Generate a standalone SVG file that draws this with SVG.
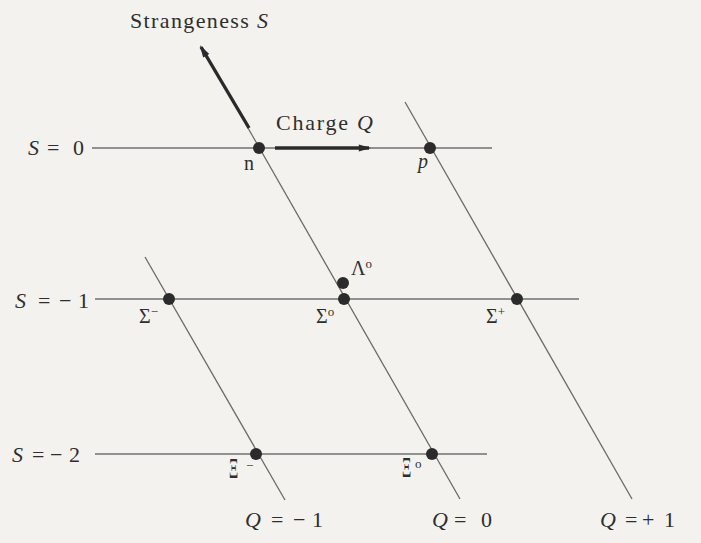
<svg xmlns="http://www.w3.org/2000/svg" width="701" height="543" viewBox="0 0 701 543">
<defs>
<style>
text{font-family:"Liberation Serif","DejaVu Serif",serif;fill:#2e2e2e;font-size:22px}
.it{font-style:italic}
.lb{font-size:20px}
.sup{font-size:13px}
.h{stroke:#919191;stroke-width:2;fill:none}
.d{stroke:#6a6a6a;stroke-width:1.3;fill:none}
.ax{stroke:#2a2a2a;stroke-width:3.4;fill:none}
.dot{fill:#2b2b2b}
</style>
<marker id="ah" viewBox="0 0 12 10" refX="10" refY="5" markerWidth="4" markerHeight="3" orient="auto" markerUnits="strokeWidth">
<path d="M0,1.5 L12,5 L0,8.5 z" fill="#2a2a2a"/>
</marker>
</defs>
<rect width="701" height="543" fill="#f3f2ee"/>
<g id="connectors">
<line class="h" x1="92" y1="148" x2="492" y2="148"/>
<line class="h" x1="95" y1="299" x2="579" y2="299"/>
<line class="h" x1="95" y1="454" x2="487" y2="454"/>
<line class="d" x1="248" y1="128" x2="460" y2="499"/>
<line class="d" x1="405" y1="102" x2="632" y2="499"/>
<line class="d" x1="145" y1="257" x2="285" y2="500"/>
<line class="ax" x1="249" y1="128" x2="201" y2="47" marker-end="url(#ah)"/>
<line class="ax" x1="275" y1="148" x2="369" y2="148" marker-end="url(#ah)"/>
</g>
<g id="axis-labels">
<text x="130" y="28" textLength="138" lengthAdjust="spacing">Strangeness <tspan class="it">S</tspan></text>
<text x="276" y="130" textLength="97" lengthAdjust="spacing">Charge <tspan class="it">Q</tspan></text>
<text y="155"><tspan class="it" x="28">S</tspan><tspan x="47">=</tspan><tspan x="73">0</tspan></text>
<text y="308"><tspan class="it" x="15">S</tspan><tspan x="38">=</tspan><tspan x="59">−</tspan><tspan x="78">1</tspan></text>
<text y="462"><tspan class="it" x="12">S</tspan><tspan x="32">=</tspan><tspan x="50">−</tspan><tspan x="69">2</tspan></text>
<text y="527"><tspan class="it" x="245">Q</tspan><tspan x="271">=</tspan><tspan x="293">−</tspan><tspan x="312">1</tspan></text>
<text y="527"><tspan class="it" x="432">Q</tspan><tspan x="454">=</tspan><tspan x="481">0</tspan></text>
<text y="527"><tspan class="it" x="600">Q</tspan><tspan x="625">=</tspan><tspan x="642">+</tspan><tspan x="664">1</tspan></text>
</g>
<g id="n"><circle class="dot" cx="259" cy="148" r="6"/><text class="lb" x="244" y="170">n</text></g>
<g id="p"><circle class="dot" cx="430" cy="148" r="6"/><text class="lb it" x="418" y="168">p</text></g>
<g id="sigma-minus"><circle class="dot" cx="169" cy="299" r="6"/><text class="lb" x="139" y="323">Σ<tspan class="sup" dy="-7">−</tspan></text></g>
<g id="sigma-zero"><circle class="dot" cx="344" cy="299" r="6"/><text class="lb" x="316" y="323">Σ<tspan class="sup" dy="-7">o</tspan></text></g>
<g id="lambda-zero"><circle class="dot" cx="343" cy="283" r="6"/><text class="lb" x="351" y="275">Λ<tspan class="sup" dy="-7">o</tspan></text></g>
<g id="sigma-plus"><circle class="dot" cx="517" cy="299" r="6"/><text class="lb" x="486" y="323">Σ<tspan class="sup" dy="-7">+</tspan></text></g>
<g id="xi-minus"><circle class="dot" cx="256" cy="454" r="6"/><text transform="translate(229,478) scale(0.65,1.35)">Ξ</text><text class="sup" x="246" y="470">−</text></g>
<g id="xi-zero"><circle class="dot" cx="432" cy="454" r="6"/><text transform="translate(402,477) scale(0.65,1.3)">Ξ</text><text class="sup" x="415" y="468">o</text></g>
</svg>
